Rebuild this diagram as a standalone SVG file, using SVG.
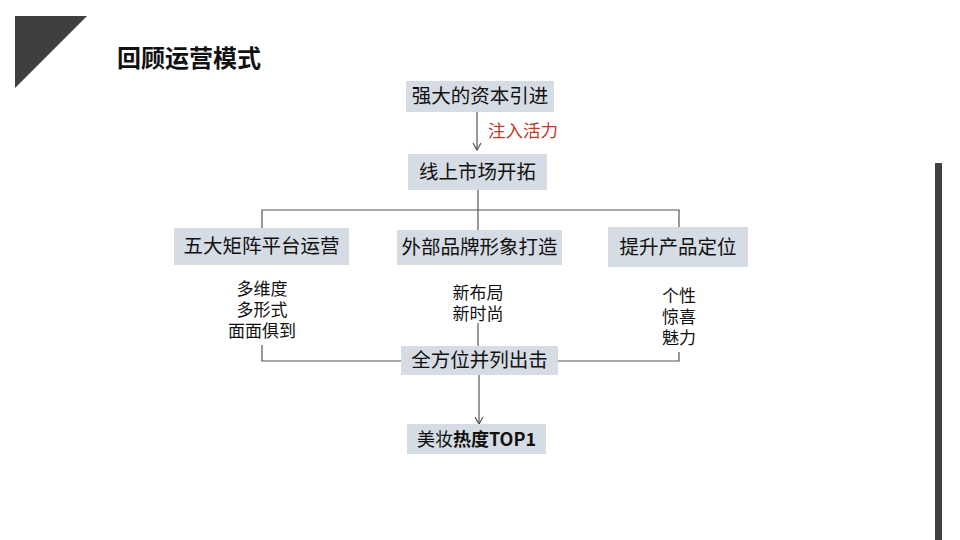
<svg xmlns="http://www.w3.org/2000/svg" width="960" height="540" viewBox="0 0 960 540">
<defs>
<style>
.box{fill:#d6dce4;}
.t{font-family:"Noto Sans CJK SC","Noto Sans",sans-serif;font-size:19.5px;fill:#111;text-anchor:middle;}
.s{font-family:"Noto Sans CJK SC","Noto Sans",sans-serif;font-size:17px;fill:#111;text-anchor:middle;}
.ln{stroke:#5a5050;stroke-width:1.2;fill:none;}
</style>
<marker id="arr" markerWidth="12" markerHeight="12" refX="9" refY="6" orient="auto" markerUnits="userSpaceOnUse" viewBox="0 0 12 12">
<polyline points="2,2 9,6 2,10" fill="none" stroke="#5a5050" stroke-width="1.2"/>
</marker>
</defs>
<rect width="960" height="540" fill="#fff"/>
<polygon points="15,16 87,16 15,88" fill="#3f3f3f"/>
<text x="117" y="67" font-family="Noto Sans CJK SC,sans-serif" font-size="24" font-weight="bold" fill="#111">回顾运营模式</text>
<rect x="935" y="163" width="7" height="377" fill="#404040"/>

<g id="connectors">
<line class="ln" x1="477" y1="112" x2="477" y2="150" marker-end="url(#arr)"/>
<text x="488" y="137" font-family="Noto Sans CJK SC,sans-serif" font-size="17.5" fill="#c0392b">注入活力</text>
<polyline class="ln" points="478,190 478,210"/>
<polyline class="ln" points="262,228 262,210 679,210 679,227"/>
<polyline class="ln" points="478,210 478,230"/>
<polyline class="ln" points="262,345 262,361 401,361"/>
<polyline class="ln" points="558,361 679,361 679,352"/>
<line class="ln" x1="478" y1="323" x2="478" y2="346"/>
<line class="ln" x1="479" y1="375" x2="479" y2="424" marker-end="url(#arr)"/>
</g>

<g id="n1"><rect class="box" x="406" y="81" width="148" height="31"/><text class="t" x="480" y="103">强大的资本引进</text></g>
<g id="n2"><rect class="box" x="408" y="154" width="139" height="36"/><text class="t" x="477.5" y="179">线上市场开拓</text></g>
<g id="n3"><rect class="box" x="174" y="228" width="175" height="37"/><text class="t" x="261.5" y="253">五大矩阵平台运营</text></g>
<g id="n4"><rect class="box" x="397" y="230" width="165" height="35"/><text class="t" x="479.5" y="254">外部品牌形象打造</text></g>
<g id="n5"><rect class="box" x="608" y="227" width="140" height="40"/><text class="t" x="678" y="254">提升产品定位</text></g>
<g id="d1"><text class="s"><tspan x="262" y="295">多维度</tspan><tspan x="262" y="316">多形式</tspan><tspan x="262" y="337">面面俱到</tspan></text></g>
<g id="d2"><text class="s"><tspan x="478" y="299">新布局</tspan><tspan x="478" y="320">新时尚</tspan></text></g>
<g id="d3"><text class="s"><tspan x="679" y="302">个性</tspan><tspan x="679" y="323">惊喜</tspan><tspan x="679" y="344">魅力</tspan></text></g>
<g id="n6"><rect class="box" x="401" y="346" width="157" height="29"/><text class="t" x="479.5" y="367">全方位并列出击</text></g>
<g id="n7"><rect class="box" x="407" y="424" width="139" height="30"/><text x="476.5" y="446" font-family="Noto Sans CJK SC,sans-serif" font-size="18" fill="#111" text-anchor="middle">美妆<tspan font-weight="bold">热度TOP1</tspan></text></g>
</svg>
